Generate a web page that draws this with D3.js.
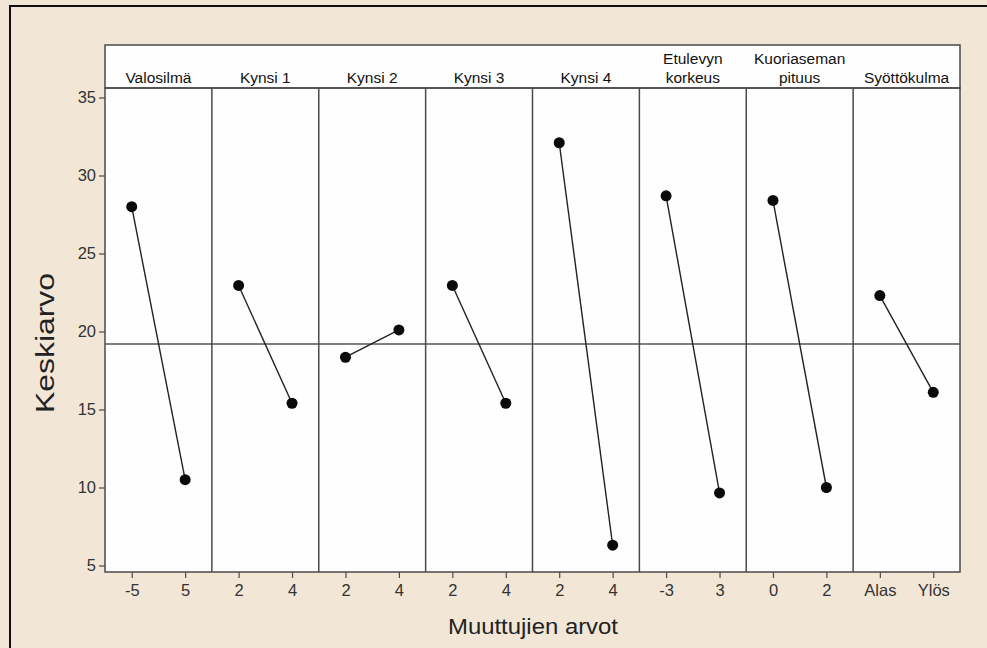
<!DOCTYPE html>
<html>
<head>
<meta charset="utf-8">
<script src="https://cdn.jsdelivr.net/npm/d3@7"></script>
<style>
  body { margin: 0; background: #f2e7d7; }
  svg { display: block; font-family: "Liberation Sans", Arial, sans-serif; }
</style>
</head>
<body>
<svg width="987" height="648"></svg>
<script>
// factors (panel titles, split into lines) and their levels
var factors = [
  ["Valosilmä"],
  ["Kynsi 1"],
  ["Kynsi 2"],
  ["Kynsi 3"],
  ["Kynsi 4"],
  ["Etulevyn", "korkeus"],
  ["Kuoriaseman", "pituus"],
  ["Syöttökulma"]
];
var levels = [
  ["-5", "5"],
  ["2", "4"],
  ["2", "4"],
  ["2", "4"],
  ["2", "4"],
  ["-3", "3"],
  ["0", "2"],
  ["Alas", "Ylös"]
];
// mean response at each level
var means = [
  [28.0, 10.5],
  [22.95, 15.4],
  [18.35, 20.1],
  [22.95, 15.4],
  [32.1, 6.3],
  [28.7, 9.65],
  [28.4, 10.0],
  [22.3, 16.1]
];
var yTicks = [5, 10, 15, 20, 25, 30, 35];

var svg = d3.select("svg");
var left = 105, right = 960, headTop = 45, plotTop = 88, plotBottom = 572;
var frame = "#4a4a4a";

// outer frame
svg.append("rect")
  .attr("x", 10).attr("y", 6).attr("width", 1000).attr("height", 700)
  .style("fill", "#f2e7d7").style("stroke", "#111").style("stroke-width", 2);

var y = d3.scaleLinear().domain([5, 35]).range([565.5, 97.5]);

var panel = d3.scaleBand()
  .domain(d3.range(factors.length))
  .range([left, right]);

// plot background + header strip
svg.append("rect")
  .attr("x", left).attr("y", headTop)
  .attr("width", right - left).attr("height", plotBottom - headTop)
  .style("fill", "#fefefe");

svg.append("rect")
  .attr("x", left).attr("y", headTop)
  .attr("width", right - left).attr("height", plotTop - headTop)
  .style("fill", "none").style("stroke", frame).style("stroke-width", 1.5);

// grand mean reference line
var all = [];
means.forEach(function(m){ all = all.concat(m); });
var grand = d3.mean(all);

svg.append("line")
  .attr("x1", left).attr("x2", right)
  .attr("y1", y(grand)).attr("y2", y(grand))
  .style("stroke", "#555").style("stroke-width", 1.3);

// panels
factors.forEach(function(title, i) {
  var x0 = panel(i), x1 = x0 + panel.bandwidth();
  var x = d3.scalePoint().domain(levels[i]).range([x0, x1]).padding(0.5);

  // header text
  var t = svg.append("text")
    .attr("text-anchor", "middle")
    .style("font-size", "15.5px").style("fill", "#111");
  title.forEach(function(line, k) {
    t.append("tspan")
      .attr("x", (x0 + x1) / 2)
      .attr("y", title.length == 1 ? 83 : 64 + k * 19)
      .text(line);
  });

  // divider
  if (i > 0) {
    svg.append("line")
      .attr("x1", x0).attr("x2", x0).attr("y1", plotTop).attr("y2", plotBottom)
      .style("stroke", frame).style("stroke-width", 1.5);
  }

  // x axis
  var ax = svg.append("g")
    .attr("transform", "translate(0," + plotBottom + ")")
    .call(d3.axisBottom(x).tickSize(6).tickPadding(6));
  ax.select(".domain").remove();
  ax.selectAll(".tick line").style("stroke", frame).style("stroke-width", 1.2);
  ax.selectAll(".tick text").style("font-size", "16.5px").style("fill", "#333")
    .style("font-family", "'Liberation Sans', Arial, sans-serif");

  // line + points
  var pts = levels[i].map(function(l, j){ return [x(l), y(means[i][j])]; });
  svg.append("path")
    .attr("d", d3.line()(pts))
    .style("fill", "none").style("stroke", "#222").style("stroke-width", 1.4);
  svg.selectAll(null).data(pts).enter().append("circle")
    .attr("cx", function(d){ return d[0]; })
    .attr("cy", function(d){ return d[1]; })
    .attr("r", 5.5)
    .style("fill", "#0a0a0a");
});

// plot border
svg.append("rect")
  .attr("x", left).attr("y", plotTop)
  .attr("width", right - left).attr("height", plotBottom - plotTop)
  .style("fill", "none").style("stroke", frame).style("stroke-width", 1.5);

// y axis
var ay = svg.append("g")
  .attr("transform", "translate(" + left + ",0)")
  .call(d3.axisLeft(y).tickValues(yTicks).tickSize(6).tickPadding(3));
ay.select(".domain").remove();
ay.selectAll(".tick line").style("stroke", frame).style("stroke-width", 1.2);
ay.selectAll(".tick text").style("font-size", "16.5px").style("fill", "#333")
  .style("font-family", "'Liberation Sans', Arial, sans-serif");

// axis titles
svg.append("text")
  .attr("x", 533).attr("y", 634)
  .attr("text-anchor", "middle")
  .attr("textLength", 170)
  .attr("lengthAdjust", "spacingAndGlyphs")
  .style("font-size", "22px").style("fill", "#222")
  .text("Muuttujien arvot");

svg.append("text")
  .attr("transform", "translate(54,343) rotate(-90)")
  .attr("text-anchor", "middle")
  .attr("textLength", 140)
  .attr("lengthAdjust", "spacingAndGlyphs")
  .style("font-size", "25px").style("fill", "#222")
  .text("Keskiarvo");
</script>
</body>
</html>
